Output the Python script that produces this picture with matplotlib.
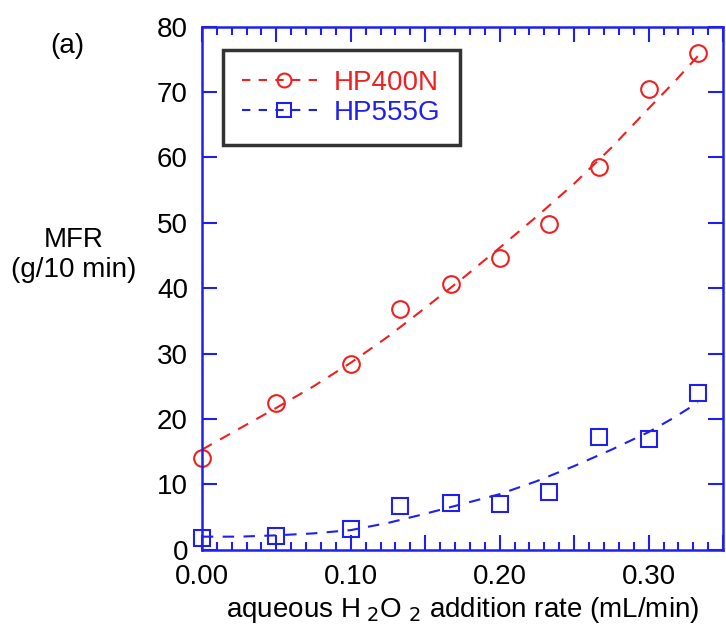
import matplotlib.pyplot as plt
from matplotlib.ticker import MultipleLocator, FuncFormatter

plt.rcParams['font.family'] = ['Liberation Sans', 'DejaVu Sans']

# measured points
rate = [0.0, 0.05, 0.10, 0.133, 0.167, 0.20, 0.233, 0.267, 0.30, 0.333]
hp400n = [14.0, 22.4, 28.4, 36.9, 40.7, 44.7, 49.8, 58.6, 70.5, 76.0]
hp555g = [1.8, 2.1, 3.2, 6.7, 7.2, 7.0, 8.8, 17.2, 17.0, 24.0]

# dashed trend curves
fit_x = [0.0, 0.025, 0.05, 0.075, 0.10, 0.125, 0.15, 0.175, 0.20, 0.225, 0.25, 0.275, 0.30, 0.317, 0.333]
fit_400 = [15.3, 18.5, 21.7, 25.0, 28.6, 32.6, 37.0, 41.5, 46.2, 51.0, 56.0, 61.5, 67.5, 71.5, 75.5]
fit_555 = [2.0, 2.0, 2.2, 2.5, 3.0, 4.1, 5.5, 7.0, 8.5, 10.5, 12.8, 15.3, 18.0, 20.2, 22.5]

red = '#ee2020'
blue = '#2020ee'
fs = 20

fig = plt.figure(figsize=(7.26, 6.37), dpi=100)
ax = fig.add_axes([0.278, 0.137, 0.718, 0.821])

ax.plot(fit_x, fit_400, color=red, lw=1.5, dashes=(5.5, 4.5))
ax.plot(fit_x, fit_555, color=blue, lw=1.5, dashes=(5.5, 4.5))
ax.plot(rate, hp400n, 'o', color=red, mfc='none', ms=12, mew=1.5, clip_on=False)
ax.plot(rate, hp555g, 's', color=blue, mfc='none', ms=11, mew=1.5, clip_on=False)

# legend handles: dashed line with marker
ax.plot([], [], color=red, lw=1.5, dashes=(4, 4), marker='o', mfc='none', ms=10, mew=1.5, label='HP400N')
ax.plot([], [], color=blue, lw=1.5, dashes=(4, 4), marker='s', mfc='none', ms=10, mew=1.5, label='HP555G')
leg = ax.legend(loc='upper left', bbox_to_anchor=(0.04, 0.955), fontsize=fs, frameon=True,
                fancybox=False, edgecolor='black', handlelength=3.0, handletextpad=0.3,
                labelspacing=0.15, borderpad=0.7, borderaxespad=0)
leg.get_frame().set_linewidth(2.5)
for txt, c in zip(leg.get_texts(), [red, blue]):
    txt.set_color(c)

ax.set_xlim(0, 0.35)
ax.set_ylim(0, 80)
ax.xaxis.set_major_locator(MultipleLocator(0.05))
ax.xaxis.set_minor_locator(MultipleLocator(0.01))
ax.xaxis.set_major_formatter(FuncFormatter(
    lambda v, p: '%.2f' % v if round(v * 100) % 10 == 0 else ''))
ax.yaxis.set_major_locator(MultipleLocator(10))

for s in ax.spines.values():
    s.set_color(blue)
    s.set_linewidth(1.8)
ax.tick_params(which='both', direction='in', top=True, right=True, color=blue,
               labelcolor='black', labelsize=fs)
ax.tick_params(which='major', length=11, width=1.5, pad=10)
ax.tick_params(which='minor', length=6, width=1.5)

ax.set_xlabel('aqueous H$_{\\ 2}$O$_{\\ 2}$ addition rate (mL/min)', fontsize=fs, labelpad=4)
fig.text(0.101, 0.60, 'MFR\n(g/10 min)', fontsize=fs, ha='center', va='center', linespacing=1.2)
fig.text(0.093, 0.928, '(a)', fontsize=fs, ha='center', va='center')

fig.savefig('out.png', dpi=100)
